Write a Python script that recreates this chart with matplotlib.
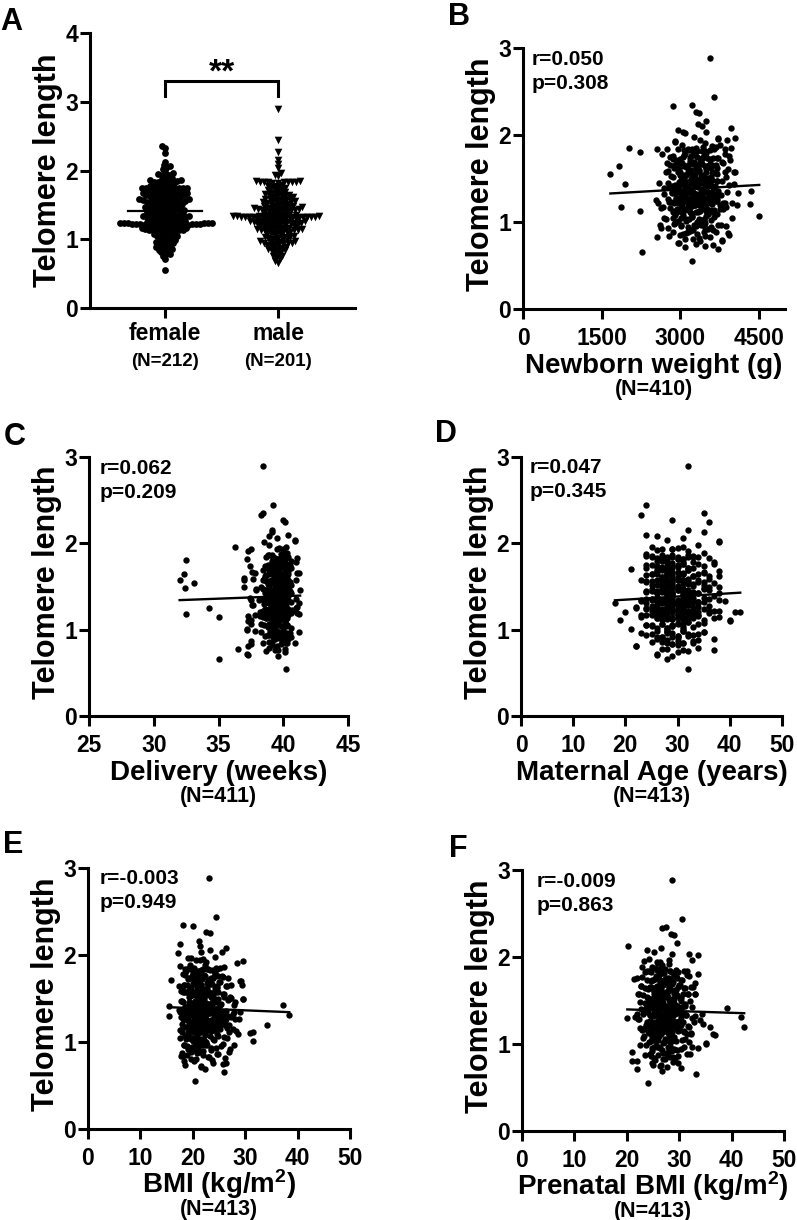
"""Telomere length vs sex and perinatal variables (six panels)."""

import numpy as np
import matplotlib
matplotlib.use('Agg')
import matplotlib.pyplot as plt
from matplotlib.transforms import offset_copy, blended_transform_factory

plt.rcParams['font.family'] = ['Liberation Sans', 'DejaVu Sans']
plt.rcParams['font.weight'] = 'bold'
plt.rcParams['mathtext.fontset'] = 'custom'
plt.rcParams['mathtext.bf'] = 'Liberation Sans:bold'
plt.rcParams['mathtext.rm'] = 'Liberation Sans:bold'
plt.rcParams['mathtext.default'] = 'bf'

# telomere length per subject, grouped in 0.1-wide bins (18 female bins, then 19 male bins)
N_FEMALE_BINS = 18
telomere = [
    # female
    [0.55],
    [0.72, 0.76, 0.78, 0.79],
    [0.81, 0.83, 0.84, 0.86, 0.87, 0.88, 0.89, 0.85],
    [0.91, 0.93, 0.94, 0.95, 0.96, 0.97, 0.98, 0.92, 0.99],
    [1.01, 1.02, 1.03, 1.04, 1.05, 1.06, 1.07, 1.08, 1.09, 1.05],
    [1.11, 1.12, 1.13, 1.14, 1.15, 1.16, 1.17, 1.18, 1.19, 1.11, 1.13, 1.15, 1.17, 1.19, 1.12, 1.14,
     1.16, 1.18, 1.15, 1.17],
    [1.20, 1.21, 1.22, 1.23, 1.24, 1.25, 1.26, 1.27, 1.28, 1.29, 1.20, 1.21, 1.22, 1.23, 1.24, 1.25,
     1.21, 1.22, 1.23, 1.24, 1.26, 1.28, 1.21, 1.22, 1.23, 1.25, 1.27, 1.22, 1.23, 1.21, 1.24, 1.22,
     1.23],
    [1.31, 1.32, 1.33, 1.34, 1.35, 1.36, 1.37, 1.38, 1.39, 1.30, 1.32, 1.34, 1.36, 1.38, 1.31, 1.33,
     1.35, 1.37, 1.39, 1.34, 1.30, 1.32],
    [1.41, 1.42, 1.43, 1.44, 1.45, 1.46, 1.47, 1.48, 1.49, 1.40, 1.42, 1.44, 1.46, 1.48, 1.41, 1.43,
     1.45, 1.47, 1.49],
    [1.50, 1.51, 1.52, 1.53, 1.54, 1.55, 1.56, 1.57, 1.58, 1.59, 1.51, 1.53, 1.55, 1.57, 1.59, 1.52,
     1.54, 1.56, 1.58, 1.55, 1.57],
    [1.60, 1.61, 1.62, 1.63, 1.64, 1.65, 1.66, 1.67, 1.68, 1.69, 1.61, 1.63, 1.65, 1.67, 1.69, 1.62,
     1.64, 1.66, 1.68, 1.65],
    [1.70, 1.71, 1.72, 1.73, 1.74, 1.75, 1.76, 1.77, 1.78, 1.79, 1.72, 1.74, 1.76, 1.71, 1.75, 1.73,
     1.78, 1.74, 1.76],
    [1.81, 1.82, 1.83, 1.85, 1.86, 1.88, 1.89, 1.84, 1.87, 1.82, 1.84, 1.86],
    [1.91, 1.93, 1.95, 1.96, 1.98, 1.94],
    [2.02, 2.04, 2.06, 2.08],
    [2.13],
    [2.25],
    [2.33, 2.35],
    # male
    [0.66, 0.69],
    [0.71, 0.74, 0.76, 0.78, 0.75],
    [0.81, 0.83, 0.84, 0.86, 0.88, 0.89, 0.82, 0.85, 0.87],
    [0.90, 0.92, 0.93, 0.95, 0.96, 0.97, 0.98, 0.99, 0.91, 0.94, 0.96, 0.93, 0.97, 0.95],
    [1.00, 1.01, 1.02, 1.03, 1.04, 1.05, 1.06, 1.07, 1.08, 1.09, 1.02, 1.05, 1.07, 1.04],
    [1.10, 1.11, 1.12, 1.13, 1.14, 1.15, 1.16, 1.17, 1.18, 1.19, 1.11, 1.13, 1.15, 1.17, 1.19, 1.12,
     1.14, 1.16, 1.18, 1.15, 1.13],
    [1.20, 1.21, 1.22, 1.23, 1.24, 1.25, 1.26, 1.27, 1.28, 1.29, 1.21, 1.23, 1.25, 1.27, 1.29, 1.22,
     1.24, 1.26, 1.28, 1.25, 1.27, 1.23, 1.26, 1.22, 1.24],
    [1.30, 1.31, 1.32, 1.33, 1.34, 1.35, 1.36, 1.37, 1.38, 1.39, 1.30, 1.31, 1.32, 1.33, 1.34, 1.35,
     1.31, 1.32, 1.33, 1.34, 1.32, 1.33, 1.34, 1.31, 1.33, 1.35, 1.36, 1.32, 1.34, 1.33],
    [1.40, 1.41, 1.42, 1.43, 1.44, 1.45, 1.46, 1.47, 1.48, 1.49, 1.41, 1.43, 1.45, 1.47, 1.49, 1.42,
     1.44, 1.46, 1.45, 1.43, 1.47, 1.41],
    [1.50, 1.51, 1.52, 1.53, 1.54, 1.55, 1.56, 1.57, 1.58, 1.59, 1.52, 1.54, 1.56, 1.58, 1.53, 1.57],
    [1.60, 1.61, 1.62, 1.63, 1.64, 1.65, 1.66, 1.67, 1.68, 1.69, 1.62, 1.64, 1.66],
    [1.70, 1.71, 1.72, 1.73, 1.74, 1.75, 1.76, 1.77, 1.78, 1.79],
    [1.82, 1.83, 1.84, 1.84, 1.85, 1.84, 1.83, 1.84, 1.82, 1.85, 1.84],
    [1.92, 1.96, 1.94],
    [2.03],
    [2.10, 2.16],
    [2.27],
    [2.44],
    [2.89],
]

# newborn weight (g), same subjects / bins as telomere (3 missing)
weight_g = [
    [3216],
    [3467, 2950, 3380, 3800],
    [3090, 3560, 2780, 3320, 3910, 3150, 3450, 2990],
    [3250, 2640, 3580, 3020, 3390, 3720, 2880, 3160, 3480],
    [3120, 3460, 2720, 3350, 3010, 3640, 3230, 2900, 3540, 3980],
    [3310, 2870, 2241, 3590, 3140, 3430, 2680, 3220, 3760, 3040, 3500, 2940, 1871, 3360, 3190, 3650,
     2810, 3410, 3070, 3880],
    [3180, 3470, 2960, 3330, 3620, 3050, 3260, 2760, 3540, 3110, 3390, 4336, 2890, 3200, 3710, 3010,
     3440, 2580, 3290, 3600, 3130, 2920, 3370, 3820, 3060, 3480, 3150, 3520, 2830, 3400, 3680, 3240],
    [3350, 3020, 3560, 2840, 3240, 4343, 3430, 3120, 2700, 3660, 3300, 2980, 3510, 3170, 3780, 2900,
     3400, 3090, 3620, 3220, 3330],
    [3260, 3530, 2910, 1954, 3380, 3150, 3700, 3040, 3450, 2790, 3290, 4020, 3110, 3600, 2970, 3340,
     3190, 3480, 3030],
    [3300, 3070, 3580, 2830, 3420, 1667, 3160, 3690, 2950, 3360, 3510, 3010, 3230, 3850, 2760, 3450,
     3120, 3630, 2990, 3280, 4050],
    [3210, 3490, 2880, 3340, 1826, 3600, 3060, 3420, 2740, 3270, 3920, 3130, 3550, 2970, 3380, 3710,
     3040, 3310, 3820, 3150],
    [3390, 2920, 3560, 3180, 3700, 2800, 3450, 3080, 3860, 3270, 2990, 3620, 3200, 3950, 3330, 3520,
     3100, 3420, 2870],
    [2228, 3250, 3570, 2017, 3430, 3040, 3760, 3150, 3600, 3320, 2960, 3680],
    [3480, 2900, 3730, 4050, 3270, 3900],
    [3090, 3500, 2960, 3960],
    [3346],
    [3366],
    [2867, 3231],
    [2273, 3723],
    [3090, 3620, 2980, 3800, 3310],
    [3240, 2560, 3470, 3050, 3680, 2870, 3350, 3940, 3120],
    [3180, 3540, 2760, 3300, 3020, 3770, 3410, 2900, 3620, 3140, 2610, 3480, 3260, 3880],
    [3330, 2950, 3590, 3110, 3450, 2690, 3220, 4508, 3050, 3700, 3370, 2860, 3500, 3170],
    [3210, 3570, 2940, 3360, 3100, 3750, 2640, 3440, 3030, 3290, 3640, 2880, 3510, 3190, 4080, 3340,
     2990, 3470, 3150, 3820, 3380],
    [3280, 3010, 3530, 2780, 3390, 3160, 3700, 2920, 3450, 3070, 3610, 3240, 2530, 3500, 3120, 3860,
     3330, 2970, 3420, 3190, 3660, 3040, 3370, 3990, 3110],
    [3300, 3060, 3560, 2840, 3410, 3200, 3720, 2960, 3480, 3130, 3620, 3260, 2700, 3530, 3090, 3900,
     3350, 3010, 3440, 3170, 3680, 2890, 3390, 3230, 4100, 3050, 3500, 3280, 3600],
    [3340, 2910, 3580, 3140, 3460, 2770, 3250, 3790, 3020, 3400, 3660, 3100, 2600, 3520, 3200, 3940,
     3300, 2980, 3470, 3080, 3710, 2850],
    [3230, 3550, 2860, 3400, 3080, 3700, 3170, 2720, 3490, 3320, 3880, 2990, 3610, 3150, 3420, 4020],
    [3360, 2950, 3590, 3120, 3470, 2800, 3680, 3240, 3030, 3800, 3310, 3520, 2900],
    [3190, 3560, 2870, 3410, 3730, 3060, 3940, 3290, 2660, 3500],
    [3420, 3070, 3650, 2550, 3300, 3850, 3160, 2750, 3480, 3960, 3220],
    [2900, 3730, 3380],
    [3050],
    [3423, 3500],
    [3300],
    [3646],
    [3569],
]

# delivery (weeks of gestation), 2 missing
delivery_wk = [
    [40.2],
    [37.2, 39.6, 40.1, 38.9],
    [37.3, 39.8, 40.3, 39.1, 37.5, 40.0, 39.4, 40.9],
    [39.2, 40.4, 38.8, 39.9, 40.1, 38.3, 39.5, 40.6, 39.0],
    [37.2, 39.4, 40.0, 38.9, 40.3, 39.6, 37.5, 40.1, 39.1, 38.5],
    [39.5, 40.2, 38.7, 39.9, 35.0, 37.3, 40.4, 32.5, 39.1, 39.7, 40.0, 38.4, 39.3, 40.6, 39.8, 38.9,
     40.1, 41.2, 39.4, 37.8],
    [40.3, 39.0, 40.1, 39.6, 38.6, 34.3, 39.3, 39.9, 37.6, 40.0, 39.5, 40.5, 38.8, 39.2, 40.2, 39.7,
     38.2, 40.4, 39.1, 39.8, 41.1, 40.0, 38.9, 39.4, 40.7, 39.6, 39.8, 40.2, 39.3, 40.0, 38.9, 39.6],
    [39.4, 40.0, 38.7, 39.8, 40.3, 39.1, 37.4, 40.1, 39.6, 38.5, 39.9, 40.4, 39.2, 40.2, 38.9, 39.7,
     41.0, 40.0, 39.3, 38.1, 40.1, 39.5],
    [39.5, 40.2, 38.8, 39.9, 40.4, 39.2, 37.9, 32.4, 40.0, 39.6, 40.6, 39.1, 38.6, 40.1, 39.8, 39.3,
     40.3, 38.4, 39.7],
    [39.7, 40.1, 38.9, 39.4, 33.1, 40.3, 39.0, 37.0, 32.0, 38.5, 40.0, 39.8, 40.5, 39.2, 37.7, 40.2,
     39.5, 38.8, 40.4, 39.9, 39.1],
    [37.0, 39.3, 40.0, 38.7, 39.8, 32.3, 40.2, 39.1, 40.4, 38.4, 39.6, 40.1, 39.4, 37.6, 40.3, 39.9,
     38.9, 41.1, 39.2, 40.0],
    [39.5, 40.2, 40.6, 39.9, 40.4, 39.0, 40.2, 40.1, 39.7, 40.6, 39.3, 37.4, 40.0, 39.6, 38.8, 40.3,
     39.8, 38.6, 39.4],
    [32.5, 37.2, 39.4, 40.1, 38.8, 39.8, 40.3, 40.3, 39.1, 39.7, 40.0, 38.9],
    [37.3, 37.5, 39.7, 40.2, 38.9, 40.0],
    [38.5, 40.9, 39.5, 38.9],
    [39.1],
    [40.1],
    [38.3, 38.4],
    [35.0, 39.6],
    [37.3, 40.1, 39.4, 36.5, 38.7],
    [39.5, 37.5, 40.2, 38.9, 39.9, 40.4, 39.1, 38.4, 40.0],
    [39.7, 40.1, 38.6, 39.2, 40.3, 39.9, 37.8, 40.0, 39.4, 38.9, 40.5, 39.6, 41.2, 39.0],
    [37.2, 39.3, 40.0, 38.8, 39.8, 40.3, 39.1, 38.3, 40.1, 39.6, 40.6, 39.4, 38.9, 40.2],
    [37.3, 37.5, 39.4, 40.2, 38.7, 39.9, 40.0, 39.2, 38.5, 40.4, 39.6, 40.1, 38.9, 39.8, 41.1, 39.3,
     40.3, 38.2, 39.7, 40.0, 39.5],
    [39.0, 40.1, 39.5, 38.6, 40.3, 39.8, 39.2, 40.0, 37.7, 39.6, 40.5, 38.9, 39.3, 40.2, 39.9, 38.4,
     40.4, 39.1, 39.7, 41.0, 40.0, 38.8, 39.4, 40.7, 39.8],
    [39.6, 40.0, 38.7, 39.9, 40.3, 39.1, 38.2, 40.1, 39.5, 40.4, 39.3, 38.9, 40.2, 39.8, 37.5, 40.0,
     39.4, 40.6, 39.0, 38.5, 39.7, 40.3, 39.2, 41.2, 40.1, 38.8, 39.6, 40.0, 39.3],
    [39.5, 40.2, 38.6, 39.8, 40.0, 39.2, 37.9, 40.4, 39.6, 38.9, 40.1, 39.3, 40.5, 39.9, 38.3, 40.3,
     39.0, 41.3, 40.1, 39.7, 40.4, 38.9],
    [37.0, 39.4, 40.1, 38.8, 39.7, 40.3, 39.1, 38.4, 40.0, 39.6, 40.6, 39.3, 38.7, 40.2, 39.8, 41.0],
    [39.5, 40.0, 38.6, 39.9, 40.4, 39.2, 37.8, 40.1, 39.7, 38.9, 40.3, 39.4, 41.2],
    [39.3, 40.1, 38.8, 39.8, 40.4, 40.5, 39.6, 40.0, 41.0, 39.1],
    [39.4, 40.2, 38.7, 39.9, 40.3, 40.4, 41.1, 40.1, 39.6, 40.0, 39.2],
    [40.0, 36.3, 39.5],
    [40.9],
    [40.4, 39.1],
    [40.0],
    [39.2],
    [38.4],
]

# maternal age (years)
maternal_age = [
    [32],
    [26, 31, 27, 34],
    [22, 29, 33, 25, 30, 28, 37, 31],
    [27, 30, 24, 32, 28, 35, 26, 29, 31],
    [21, 28, 31, 25, 29, 34, 27, 30, 32, 24],
    [40, 29, 26, 31, 28, 33, 24, 30, 27, 35, 29, 32, 25, 28, 31, 37, 27, 30, 23, 34],
    [20, 42, 28, 31, 27, 30, 33, 25, 29, 32, 26, 34, 28, 30, 24, 31, 27, 36, 29, 33, 22, 30, 28, 38,
     26, 31, 29, 30, 27, 32, 28, 25, 31],
    [18, 30, 27, 32, 29, 25, 33, 28, 31, 26, 35, 30, 24, 29, 34, 27, 31, 28, 37, 23, 29, 34],
    [29, 31, 26, 33, 28, 30, 25, 35, 27, 32, 29, 24, 36, 30, 28, 34, 26, 31, 38],
    [28, 30, 25, 32, 27, 34, 29, 31, 26, 36, 28, 33, 24, 30, 27, 35, 29, 32, 23, 31, 28],
    [30, 27, 33, 29, 25, 31, 28, 35, 26, 32, 29, 24, 34, 30, 27, 36, 28, 31, 38, 26],
    [21, 29, 32, 27, 30, 25, 34, 28, 31, 26, 33, 29, 37, 24, 30, 28, 33, 26, 31],
    [28, 31, 26, 33, 29, 24, 35, 30, 27, 30, 25, 32],
    [32, 27, 30, 25, 34, 29],
    [38, 28, 31, 26],
    [35],
    [36],
    [23, 35],
    [28, 29],
    [26, 30, 37, 28, 32],
    [22, 29, 31, 27, 34, 26, 30, 28, 33],
    [30, 27, 32, 25, 29, 35, 28, 31, 26, 33, 23, 30, 28, 34],
    [28, 31, 26, 33, 29, 24, 30, 27, 35, 32, 28, 25, 31, 29],
    [40, 19, 29, 26, 32, 28, 34, 30, 25, 31, 27, 33, 29, 23, 36, 28, 30, 26, 32, 38, 31],
    [41, 29, 32, 27, 30, 25, 34, 28, 31, 26, 33, 29, 24, 36, 30, 27, 35, 28, 32, 22, 31, 29, 26, 37,
     28],
    [30, 27, 33, 29, 25, 31, 28, 35, 26, 32, 29, 24, 34, 30, 27, 36, 28, 31, 23, 33, 29, 26, 38, 30,
     28, 32, 25, 34, 27, 39],
    [28, 31, 26, 34, 29, 24, 32, 30, 27, 36, 28, 33, 25, 31, 29, 38, 27, 30, 32, 26, 35, 29],
    [29, 33, 26, 31, 28, 35, 24, 30, 27, 32, 29, 37, 25, 31, 28, 34],
    [30, 27, 33, 28, 31, 25, 35, 29, 26, 32, 38, 28, 30],
    [28, 32, 26, 30, 35, 24, 31, 29, 37, 27],
    [31, 27, 34, 29, 25, 32, 36, 28, 30, 24, 33],
    [26, 31, 29],
    [38],
    [24, 32],
    [29],
    [24],
    [32],
]

# BMI (kg/m2)
bmi = [
    [20.4],
    [21.5, 26.4, 18.3, 23.7],
    [19.6, 22.9, 17.8, 24.6, 20.8, 26.9, 21.7, 18.9],
    [20.2, 23.4, 19.1, 25.3, 21.8, 18.4, 22.6, 27.1, 20.6],
    [31.5, 21.2, 19.7, 23.8, 20.5, 25.9, 18.6, 22.4, 24.7, 20.0],
    [31.4, 22.0, 19.4, 24.3, 20.9, 26.6, 18.2, 21.7, 23.5, 20.3, 28.2, 22.7, 19.0, 25.1, 21.3, 17.6,
     23.9, 20.6, 27.7, 22.3],
    [34.1, 21.1, 23.6, 19.8, 22.5, 25.4, 20.2, 18.5, 24.1, 21.9, 27.0, 20.7, 23.2, 19.3, 26.2, 22.8,
     17.9, 21.4, 24.6, 20.0, 28.9, 22.1, 19.6, 25.8, 21.6, 23.4, 18.7, 21.2, 22.9, 19.9, 24.3, 20.5,
     23.0],
    [38.4, 21.8, 19.5, 23.9, 20.6, 26.3, 22.4, 18.1, 24.8, 21.2, 27.6, 20.1, 22.9, 19.0, 25.5, 21.5,
     23.6, 17.4, 20.9, 29.0, 22.2, 20.3],
    [15.4, 37.2, 21.0, 23.3, 19.9, 24.5, 20.4, 26.8, 22.2, 18.6, 25.2, 21.6, 19.3, 23.8, 20.8, 27.9,
     22.6, 18.0, 24.0],
    [29.6, 21.4, 19.2, 23.5, 20.5, 25.7, 22.1, 18.4, 24.4, 20.9, 27.2, 21.8, 19.6, 23.0, 17.7, 26.0,
     22.5, 20.2, 24.9, 21.1, 18.9],
    [22.3, 19.7, 24.2, 20.8, 26.5, 21.5, 18.3, 23.7, 20.1, 25.0, 22.0, 19.4, 27.3, 21.2, 23.1, 17.9,
     24.7, 20.6, 22.7, 18.8],
    [29.1, 15.8, 21.7, 19.3, 23.4, 20.4, 25.6, 22.1, 18.2, 24.3, 21.0, 26.7, 19.8, 22.9, 20.7, 23.8,
     21.1, 20.0, 24.9],
    [21.3, 18.7, 23.8, 20.2, 25.9, 22.4, 19.5, 24.6, 17.5, 21.1, 22.9, 19.4],
    [28.4, 29.6, 21.9, 19.0, 24.2, 20.6],
    [17.1, 21.5, 23.2, 26.3],
    [17.6],
    [23.3],
    [20.0, 18.1],
    [26.0, 22.4],
    [21.5, 18.6, 23.9, 20.2, 25.7],
    [20.7, 23.1, 18.2, 24.8, 21.4, 19.6, 26.2, 22.0, 17.9],
    [21.9, 19.1, 24.5, 20.5, 22.7, 18.4, 25.8, 21.2, 23.4, 19.8, 27.9, 20.9, 22.3, 18.8],
    [22.6, 20.0, 24.1, 18.7, 21.6, 26.5, 19.5, 23.2, 20.8, 28.6, 22.1, 17.6, 24.9, 21.0],
    [30.9, 21.3, 19.0, 23.5, 20.6, 25.1, 22.2, 18.5, 24.4, 21.7, 27.0, 19.7, 22.9, 20.1, 26.1, 18.0,
     23.8, 21.1, 24.7, 19.4, 22.5],
    [21.8, 19.3, 23.3, 20.3, 25.5, 22.4, 18.1, 24.0, 21.0, 27.3, 19.8, 22.7, 20.6, 26.4, 17.8, 23.6,
     21.5, 19.1, 24.8, 20.9, 28.0, 22.1, 18.6, 25.2, 20.4],
    [15.5, 22.0, 19.6, 23.9, 20.7, 25.0, 21.4, 18.3, 24.3, 20.1, 26.8, 22.6, 19.2, 23.1, 21.1, 17.5,
     25.7, 20.5, 22.9, 18.9, 24.6, 21.7, 27.8, 19.9, 23.4, 20.2, 22.3, 18.4, 26.0, 21.2],
    [21.6, 19.0, 23.7, 20.4, 25.3, 22.2, 18.2, 24.2, 20.8, 26.9, 19.7, 22.8, 21.3, 17.8, 24.9, 20.0,
     23.0, 28.1, 21.9, 19.4, 24.5, 22.4],
    [29.6, 21.0, 23.5, 19.4, 22.3, 25.9, 20.6, 18.7, 24.1, 21.8, 27.1, 19.9, 22.6, 20.3, 23.9, 18.1],
    [22.1, 19.5, 24.6, 20.9, 26.3, 21.5, 18.4, 23.3, 20.2, 25.2, 22.7, 17.3, 29.4],
    [29.2, 21.3, 19.1, 23.8, 20.7, 25.8, 22.4, 18.6, 24.3, 20.1],
    [20.8, 23.2, 18.9, 22.0, 25.1, 19.6, 21.6, 22.8, 20.2, 24.4, 18.5],
    [22.5, 19.7, 21.3],
    [25.5],
    [21.4, 21.2],
    [22.6],
    [24.4],
    [23.0],
]

# prenatal BMI (kg/m2)
prenatal_bmi = [
    [24.1],
    [30.3, 26.5, 24.8, 28.9],
    [21.9, 27.3, 25.2, 29.8, 26.0, 31.4, 24.4, 28.2],
    [21.0, 26.7, 29.1, 24.9, 27.8, 32.5, 25.6, 28.4, 23.7],
    [35.2, 27.1, 24.6, 29.4, 26.0, 31.2, 25.3, 28.0, 23.2, 27.6],
    [36.5, 26.6, 24.2, 28.6, 25.7, 30.1, 27.2, 23.5, 29.3, 26.1, 32.2, 27.9, 24.9, 28.3, 25.4, 31.0,
     26.8, 22.6, 29.7, 27.4],
    [42.4, 27.0, 25.5, 29.0, 26.3, 30.6, 24.4, 28.1, 26.9, 22.1, 31.8, 27.6, 25.1, 29.5, 26.5, 23.8,
     28.7, 27.3, 34.6, 25.9, 30.0, 26.2, 28.4, 24.7, 27.8, 32.9, 26.0, 27.4, 25.8, 28.9, 26.4, 30.3,
     24.9],
    [41.7, 26.8, 24.5, 28.9, 25.8, 30.4, 27.4, 23.3, 29.2, 26.1, 33.0, 27.7, 25.2, 28.5, 21.5, 31.3,
     26.6, 29.8, 24.0, 27.1, 26.9, 28.0],
    [39.1, 27.5, 25.0, 29.6, 26.3, 31.1, 24.2, 28.2, 26.7, 22.8, 30.5, 27.9, 25.6, 28.9, 23.6, 32.4,
     26.9, 29.1, 25.3],
    [26.4, 28.8, 24.7, 30.2, 27.0, 25.4, 29.5, 22.4, 31.6, 26.8, 28.1, 24.0, 27.6, 33.1, 25.9, 29.0,
     26.2, 23.1, 30.8, 27.3, 25.1],
    [27.4, 25.2, 29.3, 26.5, 31.2, 24.5, 28.0, 22.7, 30.0, 26.9, 27.8, 24.1, 32.7, 25.7, 28.6, 26.1,
     23.4, 29.7, 27.0, 25.5],
    [33.0, 26.3, 28.4, 24.8, 30.3, 27.2, 22.0, 29.0, 25.6, 31.5, 26.8, 23.9, 28.1, 27.5, 21.4, 26.4,
     29.3, 25.0, 27.7],
    [33.6, 27.0, 24.6, 29.4, 26.1, 24.8, 22.9, 28.3, 25.3, 26.5, 23.9, 27.3],
    [26.7, 25.9, 23.3, 28.0, 24.2, 25.8],
    [33.6, 28.6, 25.1, 23.8],
    [20.2],
    [29.0],
    [26.7, 27.5],
    [33.3, 26.7],
    [21.9, 27.6, 25.0, 29.8, 26.3],
    [21.0, 26.9, 29.2, 24.6, 27.7, 32.0, 25.4, 28.8, 23.4],
    [27.0, 24.8, 29.6, 26.4, 31.0, 25.2, 28.3, 22.5, 27.9, 30.3, 25.8, 28.9, 26.2, 33.5],
    [35.2, 26.9, 24.3, 28.7, 25.6, 30.5, 27.3, 23.0, 29.1, 26.1, 31.9, 27.7, 24.9, 28.2],
    [36.8, 26.4, 24.7, 28.5, 26.0, 30.9, 27.5, 23.6, 29.4, 25.5, 32.3, 27.8, 24.1, 28.0, 25.9, 31.4,
     26.7, 22.9, 29.7, 27.1, 28.2],
    [35.8, 27.2, 25.1, 29.3, 26.5, 30.7, 24.5, 28.4, 26.8, 22.3, 31.7, 27.6, 25.7, 29.0, 26.2, 23.7,
     28.7, 27.0, 33.9, 25.3, 30.1, 26.0, 28.1, 24.0, 29.2],
    [20.1, 27.1, 24.6, 28.9, 26.3, 30.8, 27.7, 23.9, 29.5, 25.9, 32.5, 27.4, 25.0, 28.3, 26.6, 22.0,
     30.4, 27.9, 24.4, 29.2, 26.1, 31.3, 25.6, 28.6, 27.0, 23.1, 29.9, 26.8, 34.3, 25.4],
    [27.3, 25.0, 29.1, 26.5, 31.1, 24.3, 28.2, 26.9, 22.6, 30.4, 27.8, 25.6, 28.7, 23.5, 32.1, 26.2,
     29.6, 27.0, 26.4, 28.6, 24.8, 30.1],
    [26.7, 28.9, 24.9, 30.3, 27.4, 25.6, 29.4, 22.1, 31.6, 26.3, 28.2, 23.8, 27.6, 33.0, 25.8, 29.0],
    [27.6, 25.1, 29.2, 26.4, 31.0, 24.6, 28.0, 22.8, 30.2, 26.9, 28.5, 24.2, 32.2],
    [26.9, 28.8, 24.7, 30.6, 27.3, 25.4, 29.5, 22.9, 31.8, 26.2],
    [27.1, 29.7, 24.3, 28.3, 26.0, 30.9, 23.5, 26.6, 28.9, 25.7, 31.4],
    [28.1, 32.4, 26.3],
    [31.9],
    [26.5, 29.5],
    [28.5],
    [30.5],
    [28.7],
]

sex_labels = ['female', 'male']
sex_n = ['(N=212)', '(N=201)']

W, H = 797, 1220
LW = 2.2
fig = plt.figure(figsize=(W / 100, H / 100), dpi=100)


def pair(xbins, ybins):
    xs, ys = [], []
    for bx, by in zip(xbins, ybins):
        n = min(len(bx), len(by))
        xs += list(bx[:n])
        ys += list(by[:n])
    return np.array(xs, float), np.array(ys, float)


def add_ax(left, top, right, bottom):
    """Axes from a pixel box (origin top-left)."""
    return fig.add_axes([left / W, 1 - bottom / H, (right - left) / W, (bottom - top) / H])


def style(ax, xpad):
    for s in ['top', 'right']:
        ax.spines[s].set_visible(False)
    for s in ['left', 'bottom']:
        ax.spines[s].set_linewidth(LW)
        ax.spines[s].set_capstyle('projecting')
    ax.tick_params(axis='both', width=LW, length=7, labelsize=16.5, colors='black')
    ax.tick_params(axis='y', pad=1.5)
    ax.tick_params(axis='x', pad=xpad)
    for lab in ax.get_xticklabels() + ax.get_yticklabels():
        lab.set_fontweight('bold')


def px_text(ax, x, y, s, dx=0, dy=0, trans=None, **kw):
    base = ax.transAxes if trans is None else trans
    tr = offset_copy(base, fig=fig, x=dx, y=dy, units='dots')
    return ax.text(x, y, s, transform=tr, fontweight='bold', **kw)


def ylab(ax, dy=0):
    px_text(ax, 0, 0.5, 'Telomere length', dx=-42, dy=dy, rotation=90,
            ha='center', va='center', fontsize=22)


def swarm(vals, d=3.7, xscale=113.0, yscale=68.75):
    ypx = np.asarray(vals) * yscale
    order = np.argsort(ypx, kind='stable')
    cands = np.arange(-60, 60.01, 0.5)
    cands = cands[np.argsort(np.abs(cands), kind='stable')]
    px_, py_ = np.zeros(0), np.zeros(0)
    out = np.zeros(len(ypx))
    for i in order:
        y = ypx[i]
        m = np.abs(py_ - y) < d
        nx, ny = px_[m], py_[m]
        for c in cands:
            if np.all((nx - c) ** 2 + (ny - y) ** 2 >= d * d):
                out[i] = c
                break
        px_ = np.append(px_, out[i])
        py_ = np.append(py_, y)
    return out / xscale


# ---- panel A: swarm by sex
axA = add_ax(90, 33, 355, 308)
female = pair(telomere[:N_FEMALE_BINS], telomere[:N_FEMALE_BINS])[1]
male = pair(telomere[N_FEMALE_BINS:], telomere[N_FEMALE_BINS:])[1]
axA.scatter(0 + swarm(female), female, s=24, marker='o', c='black', linewidths=0, zorder=3)
axA.scatter(1 + swarm(male), male, s=30, marker='v', c='black', linewidths=0, zorder=3)
for i, grp in enumerate([female, male]):
    axA.plot([i - 0.33, i + 0.33], [grp.mean()] * 2, color='black', lw=1.6, zorder=4)
axA.set_xlim(-0.664, 1.68)
axA.set_ylim(0, 4)
axA.set_yticks([0, 1, 2, 3, 4])
axA.set_xticks([0, 1], sex_labels)
style(axA, xpad=3)
axA.plot([0, 0, 1, 1], [3.08, 3.30, 3.30, 3.08], color='black', lw=LW, clip_on=False,
         solid_joinstyle='miter')
axA.text(0.5, 3.30, '**', ha='center', va='baseline', fontsize=24, fontweight='bold')
bt = blended_transform_factory(axA.transData, axA.transAxes)
for i, n in enumerate(sex_n):
    px_text(axA, i, 0, n, dy=-58, trans=bt, ha='center', va='baseline', fontsize=13.5)
ylab(axA)

# ---- scatter panels
panels = [
    # (box, x bins, xlim, xticks, xlabel, N, r, p, text offset)
    ((523, 48, 785, 309), weight_g, (0, 5000), [0, 1500, 3000, 4500],
     'Newborn weight (g)', '(N=410)', 'r=0.050', 'p=0.308', (9, 17)),
    ((89, 457, 348, 716), delivery_wk, (25, 45), [25, 30, 35, 40, 45],
     'Delivery (weeks)', '(N=411)', 'r=0.062', 'p=0.209', (11, 17)),
    ((521, 457, 782, 716), maternal_age, (0, 50), [0, 10, 20, 30, 40, 50],
     'Maternal Age (years)', '(N=413)', 'r=0.047', 'p=0.345', (9, 16)),
    ((88, 868, 350, 1129), bmi, (0, 50), [0, 10, 20, 30, 40, 50],
     r'BMI (kg/m$^2$)', '(N=413)', 'r=-0.003', 'p=0.949', (12, 16)),
    ((522, 870, 784, 1131), prenatal_bmi, (0, 50), [0, 10, 20, 30, 40, 50],
     r'Prenatal BMI (kg/m$^2$)', '(N=413)', 'r=-0.009', 'p=0.863', (15, 17)),
]

for box, xbins, xlim, xticks, xlabel, ntext, rtxt, ptxt, (tdx, tdy) in panels:
    ax = add_ax(*box)
    x, y = pair(xbins, telomere)
    ax.scatter(x, y, s=21, c='black', linewidths=0, zorder=3, clip_on=False)
    k, b = np.polyfit(x, y, 1)
    xl = np.array([x.min(), x.max()])
    ax.plot(xl, k * xl + b, color='black', lw=1.7, zorder=4)
    ax.set_xlim(*xlim)
    ax.set_ylim(0, 3)
    ax.set_xticks(xticks)
    ax.set_yticks([0, 1, 2, 3])
    style(ax, xpad=6)
    px_text(ax, 0, 1, rtxt, dx=tdx, dy=-tdy, ha='left', va='baseline', fontsize=15)
    px_text(ax, 0, 1, ptxt, dx=tdx, dy=-tdy - 24, ha='left', va='baseline', fontsize=15)
    px_text(ax, 0.5, 0, xlabel, dy=-64, ha='center', va='baseline', fontsize=20)
    px_text(ax, 0.5, 0, ntext, dy=-86, ha='center', va='baseline', fontsize=15.5)
    ylab(ax, dy=4)

# panel letters (left x, baseline y in pixels)
letters = [('A', 0, 30), ('B', 448, 25), ('C', 4, 445), ('D', 435, 442), ('E', 3, 853), ('F', 449, 857)]
for s, lx, ly in letters:
    fig.text(lx / W, 1 - ly / H, s, ha='left', va='baseline', fontsize=22, fontweight='bold')

fig.savefig('out.png', dpi=100)
